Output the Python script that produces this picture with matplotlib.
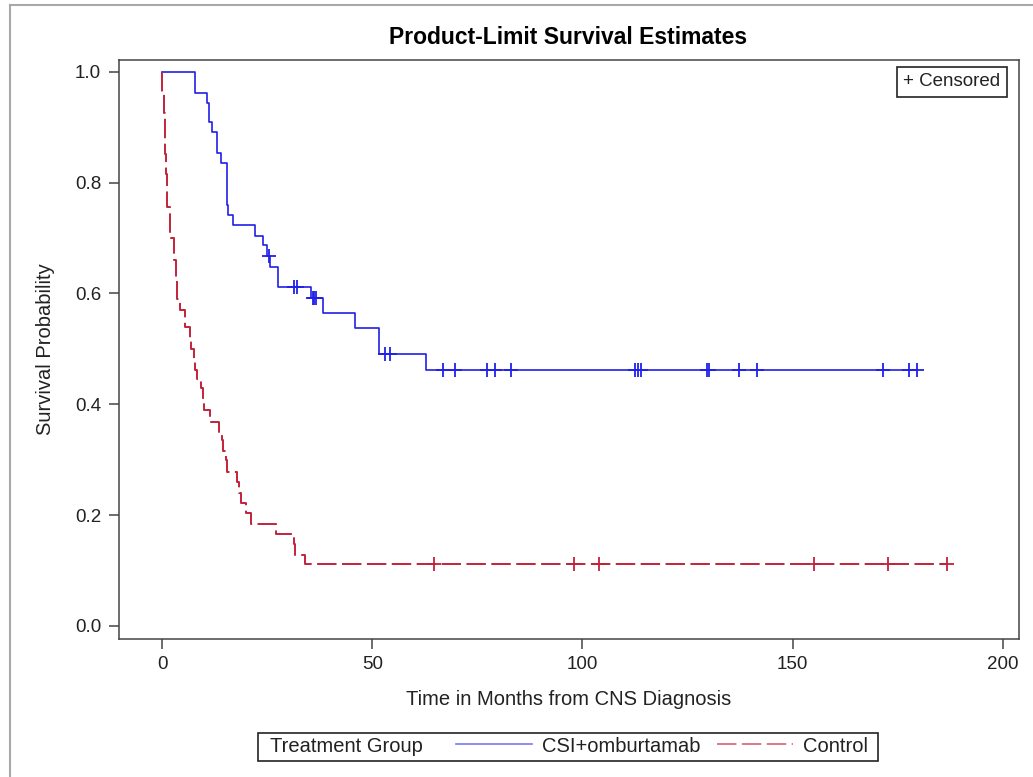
import numpy as np
import matplotlib
matplotlib.use("Agg")
import matplotlib.pyplot as plt
from matplotlib.lines import Line2D
from matplotlib.patches import Rectangle

plt.rcParams['font.family'] = ['Liberation Sans', 'DejaVu Sans']

# CSI+omburtamab: event times (months) and survival after each step
trt_time = [0, 7.9, 10.7, 11.2, 12.0, 13.0, 14.0, 15.5, 15.6, 16.8, 22.2, 23.9,
            24.9, 25.6, 27.7, 35.4, 38.2, 45.8, 51.7, 62.9]
trt_surv = [1.0, 0.962, 0.944, 0.909, 0.891, 0.853, 0.835, 0.760, 0.742, 0.724,
            0.703, 0.687, 0.667, 0.648, 0.611, 0.592, 0.564, 0.538, 0.491, 0.462]
trt_cens_t = [25.5, 31.5, 32.0, 35.8, 36.2, 36.7, 53.0, 54.2, 66.8, 69.7, 77.2,
              79.1, 82.9, 112.6, 113.2, 113.8, 129.6, 130.0, 137.2, 141.5,
              171.4, 177.6, 179.5]

# Control
ctl_time = [0, 0.1, 0.4, 0.6, 0.8, 0.95, 1.1, 1.3, 1.8, 2.8, 2.9, 3.4, 3.5, 4.3,
            5.5, 6.7, 6.9, 7.7, 7.8, 8.3, 9.2, 9.7, 10.1, 11.3, 13.6, 14.2,
            14.6, 15.2, 15.5, 17.8, 18.2, 18.7, 20.0, 21.2, 27.0, 31.5, 31.7,
            34.1]
ctl_surv = [1.0, 0.963, 0.926, 0.889, 0.852, 0.815, 0.778, 0.755, 0.700, 0.676,
            0.660, 0.630, 0.590, 0.570, 0.540, 0.520, 0.500, 0.480, 0.462,
            0.445, 0.430, 0.410, 0.390, 0.368, 0.350, 0.335, 0.315, 0.300,
            0.277, 0.260, 0.240, 0.222, 0.204, 0.184, 0.166, 0.148, 0.128,
            0.111]
ctl_cens_t = [64.8, 98.1, 103.9, 155.1, 172.6, 186.6]

groups = ['CSI+omburtamab', 'Control']
xticks = [0, 50, 100, 150, 200]
yticks = [0.0, 0.2, 0.4, 0.6, 0.8, 1.0]


def km_surv_at(times, surv, t):
    idx = np.searchsorted(times, t, side='right') - 1
    return np.asarray(surv)[idx]


W, H = 1033, 777
fig = plt.figure(figsize=(W / 100, H / 100), dpi=100)
ax = fig.add_axes([118.5 / W, 1 - 638.5 / H, 900 / W, 578.5 / H])

blue = '#2020e8'
red = '#c3213b'

# step curves, extended to the last censored time
t_end = max(trt_cens_t)
ax.step(list(trt_time) + [t_end], list(trt_surv) + [trt_surv[-1]], where='post',
        color=blue, lw=1.2)
ax.plot(trt_cens_t, km_surv_at(trt_time, trt_surv, trt_cens_t), ls='none',
        marker='+', ms=9.5, mew=1.3, color=blue)

c_end = max(ctl_cens_t)
ax.step(list(ctl_time) + [c_end], list(ctl_surv) + [ctl_surv[-1]], where='post',
        color=red, lw=1.4, dashes=(10, 2.8))
ax.plot(ctl_cens_t, km_surv_at(ctl_time, ctl_surv, ctl_cens_t), ls='none',
        marker='+', ms=9.5, mew=1.3, color=red)

ax.set_xlim(-10.35, 203.7)
ax.set_ylim(-0.0226, 1.021)
ax.set_xticks(xticks)
ax.set_yticks(yticks)
ax.set_yticklabels([f'{v:.1f}' for v in yticks])
for s in ax.spines.values():
    s.set_color('#444444')
    s.set_linewidth(1.1)
ax.tick_params(axis='both', direction='out', length=7.5, width=1.1,
               color='#444444', labelsize=13.5, labelcolor='#222222', pad=5)

ax.set_xlabel('Time in Months from CNS Diagnosis', fontsize=14.5,
              color='#222222', labelpad=12)
ax.set_ylabel('Survival Probability', fontsize=14.5, color='#222222',
              labelpad=14)
fig.text(568 / W, 1 - 38 / H, 'Product-Limit Survival Estimates',
         fontsize=16.5, fontweight='bold', ha='center', va='center')

# censored key, top-right
ax.text(0.926, 0.962, '+ Censored', transform=ax.transAxes, ha='center',
        va='center', fontsize=13.5, color='#222222',
        bbox=dict(boxstyle='square,pad=0.36', fc='white', ec='#222222', lw=1.2))

# bottom legend
fig.patches.append(Rectangle((258 / W, 1 - 761 / H), 620 / W, 28 / H,
                             transform=fig.transFigure, fill=False,
                             ec='#222222', lw=1.2))
fig.text(270 / W, 1 - 746 / H, 'Treatment Group', fontsize=14.5,
         ha='left', va='center', color='#222222')
handles = [Line2D([], [], color=blue, lw=1.2, alpha=0.6),
           Line2D([], [], color=red, lw=1.4, dashes=(10, 2.8), alpha=0.6)]
fig.legend(handles, groups, ncol=2, loc='center',
           bbox_to_anchor=(662 / W, 1 - 746 / H), frameon=False,
           fontsize=14.5, handlelength=3.8, handletextpad=0.5,
           columnspacing=0.8, borderpad=0, labelcolor='#222222')

# outer frame (left and top edges)
fig.add_artist(Line2D([10 / W, 10 / W], [0, 1 - 5 / H], transform=fig.transFigure,
                      color='#a8a8a8', lw=1.5))
fig.add_artist(Line2D([10 / W, 1], [1 - 5 / H, 1 - 5 / H], transform=fig.transFigure,
                      color='#a8a8a8', lw=1.5))

fig.savefig('out.png', dpi=100)
